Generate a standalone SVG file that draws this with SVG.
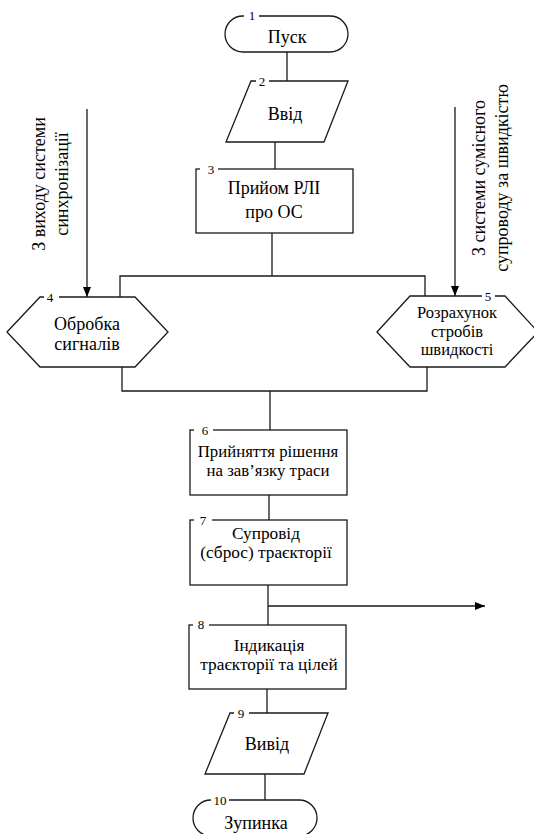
<svg xmlns="http://www.w3.org/2000/svg" width="534" height="834" viewBox="0 0 534 834">
<style>
.s{fill:#fff;stroke:#1a1a1a;stroke-width:1.3}
.c{fill:none;stroke:#1a1a1a;stroke-width:1.3}
.t{font-size:15px;fill:#000;text-anchor:middle}
.n{font-size:13px;fill:#000;text-anchor:middle}
.m{fill:#fff;stroke:none}
</style>
<defs>
<marker id="ah" viewBox="0 0 10 8" refX="10" refY="4" markerWidth="10" markerHeight="8" markerUnits="userSpaceOnUse" orient="auto">
<path d="M0,0 L10,4 L0,8 Z" fill="#000"/>
</marker>
</defs>
<rect width="534" height="834" fill="#fff"/>
<g id="connectors">
<path class="c" d="M287,52 V81"/>
<path class="c" d="M275,142 V169"/>
<path class="c" d="M272,233 V276"/>
<path class="c" d="M120,297 V276 H425 V296"/>
<path class="c" d="M122,367 V391 H427 V367"/>
<path class="c" d="M270,391 V430"/>
<path class="c" d="M269,495 V520"/>
<path class="c" d="M268,585 V625"/>
<path class="c" d="M268,606 H485" marker-end="url(#ah)"/>
<path class="c" d="M267,689 V713"/>
<path class="c" d="M265,774 V800"/>
<path class="c" d="M87,109 V297" marker-end="url(#ah)"/>
<path class="c" d="M455,107 V296" marker-end="url(#ah)"/>
</g>
<g font-family="'Liberation Serif', 'DejaVu Serif', serif">
<g id="node1">
<rect class="s" x="225" y="16" width="123" height="36" rx="18" ry="18"/>
<rect class="m" x="244" y="12" width="15" height="8"/>
<text class="n" x="252" y="20">1</text>
<text class="t" transform="translate(287,43) scale(1.2)">Пуск</text>
</g>
<g id="node2">
<polygon class="s" points="251,81 348,81 324,142 226,142"/>
<rect class="m" x="256" y="77" width="13" height="8"/>
<text class="n" x="262" y="86">2</text>
<text class="t" transform="translate(285,120) scale(1.2)">Ввід</text>
</g>
<g id="node3">
<rect class="s" x="196" y="169" width="157" height="64"/>
<rect class="m" x="200" y="165" width="18" height="8"/>
<text class="n" x="211" y="174">3</text>
<text class="t" transform="translate(274,194) scale(1.2)">Прийом РЛІ</text>
<text class="t" transform="translate(274,218) scale(1.2)">про ОС</text>
</g>
<g id="node4">
<polygon class="s" points="7,332 40,297 135,297 168,332 135,367 40,367"/>
<rect class="m" x="44" y="293" width="15" height="8"/>
<text class="n" x="50" y="302">4</text>
<text class="t" transform="translate(87,330) scale(1.2)">Обробка</text>
<text class="t" transform="translate(87,350) scale(1.2)">сигналів</text>
</g>
<g id="node5">
<polygon class="s" points="377,332 410,296 505,296 538,332 505,367 410,367"/>
<rect class="m" x="482" y="292" width="13" height="8"/>
<text class="n" x="488" y="301">5</text>
<text class="t" transform="translate(457,318) scale(1.1)">Розрахунок</text>
<text class="t" transform="translate(457,337) scale(1.1)">стробів</text>
<text class="t" transform="translate(457,355) scale(1.1)">швидкості</text>
</g>
<g id="node6">
<rect class="s" x="190" y="430" width="157" height="65"/>
<rect class="m" x="194" y="426" width="19" height="8"/>
<text class="n" x="205" y="435">6</text>
<text class="t" transform="translate(268,457) scale(1.12)">Прийняття рішення</text>
<text class="t" transform="translate(268,476) scale(1.12)">на зав’язку траси</text>
</g>
<g id="node7">
<rect class="s" x="190" y="520" width="157" height="65"/>
<rect class="m" x="194" y="516" width="18" height="8"/>
<text class="n" x="203" y="525">7</text>
<text class="t" transform="translate(266,539) scale(1.15)">Супровід</text>
<text class="t" transform="translate(266,558) scale(1.15)">(сброс) траєкторії</text>
</g>
<g id="node8">
<rect class="s" x="189" y="625" width="157" height="64"/>
<rect class="m" x="193" y="621" width="16" height="8"/>
<text class="n" x="201" y="629">8</text>
<text class="t" transform="translate(269,651) scale(1.15)">Індикація</text>
<text class="t" transform="translate(269,670) scale(1.15)">траєкторії та цілей</text>
</g>
<g id="node9">
<polygon class="s" points="230,713 328,713 304,774 205,774"/>
<rect class="m" x="234" y="709" width="15" height="8"/>
<text class="n" x="241" y="718">9</text>
<text class="t" transform="translate(267,750) scale(1.2)">Вивід</text>
</g>
<g id="node10">
<rect class="s" x="193" y="800" width="124" height="36" rx="18" ry="18"/>
<rect class="m" x="211" y="796" width="18" height="8"/>
<text class="n" x="220" y="805">10</text>
<text class="t" transform="translate(256,829) scale(1.2)">Зупинка</text>
</g>
<g id="inputs">
<text class="t" transform="translate(45,184) rotate(-90) scale(1.2)">З виходу системи</text>
<text class="t" transform="translate(68,184) rotate(-90) scale(1.2)">синхронізації</text>
<text class="t" transform="translate(485,178) rotate(-90) scale(1.2)">З системи сумісного</text>
<text class="t" transform="translate(508,178) rotate(-90) scale(1.2)">супроводу за швидкістю</text>
</g>
</g>
</svg>
